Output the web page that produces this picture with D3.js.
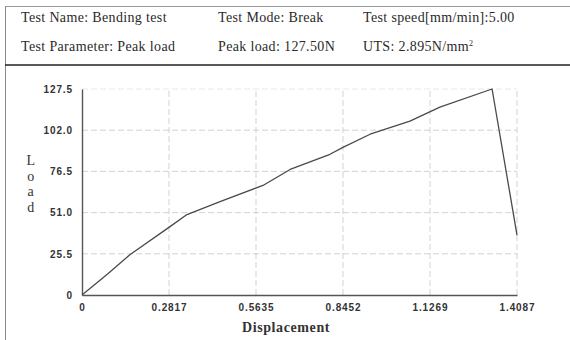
<!DOCTYPE html>
<html>
<head>
<meta charset="utf-8">
<script src="https://cdn.jsdelivr.net/npm/d3@7"></script>
<style>
  html, body { margin: 0; padding: 0; background: #fff; }
  svg { display: block; }
  .hdr { font-family: "Liberation Serif", "Times New Roman", serif; font-size: 14px; letter-spacing: 0.35px; fill: #2a2a2a; }
  .tick text { font-family: "Liberation Sans", Arial, sans-serif; font-size: 10px; font-weight: bold; fill: #333; letter-spacing: 0.9px; }
  .title { font-family: "Liberation Serif", "Times New Roman", serif; font-size: 14px; font-weight: bold; fill: #333; letter-spacing: 0.6px; }
</style>
</head>
<body>
<svg id="chart" width="570" height="340"></svg>
<script>
// Header fields of the test report
const headerRow1 = ["Test Name: Bending test", "Test Mode: Break", "Test speed[mm/min]:5.00"];
const headerRow2 = ["Test Parameter: Peak load", "Peak load: 127.50N", "UTS: 2.895N/mm"];

// Axis ticks
const xTicks = [0, 0.2817, 0.5635, 0.8452, 1.1269, 1.4087];
const xTickLabels = ["0", "0.2817", "0.5635", "0.8452", "1.1269", "1.4087"];
const yTicks = [0, 25.5, 51.0, 76.5, 102.0, 127.5];
const yTickLabels = ["0", "25.5", "51.0", "76.5", "102.0", "127.5"];

// Load-displacement curve
const displacement = [0, 0.08, 0.155, 0.285, 0.34, 0.447, 0.567, 0.586, 0.674, 0.803, 0.845, 0.933, 1.062, 1.159, 1.328, 1.4087];
const load =         [0, 12.6, 24.9, 42.3, 49.8, 57.8, 66.5, 67.8, 77.7, 87.1, 91.4, 99.5, 107.6, 116.3, 127.5, 37.0];

const svg = d3.select("#chart");

// Report frame
const frame = svg.append("g");
frame.append("line").attr("x1", 5).attr("x2", 570).attr("y1", 6.5).attr("y2", 6.5)
  .attr("stroke", "#9a9a9a").attr("stroke-width", 1);
frame.append("line").attr("x1", 5.5).attr("x2", 5.5).attr("y1", 6).attr("y2", 340)
  .attr("stroke", "#8a8a8a").attr("stroke-width", 1);
frame.append("line").attr("x1", 5).attr("x2", 570).attr("y1", 65).attr("y2", 65)
  .attr("stroke", "#222").attr("stroke-width", 1.6);

// Header text
const colX = [21, 218, 363];
headerRow1.forEach((t, i) => {
  svg.append("text").attr("class", "hdr").attr("x", colX[i]).attr("y", 22).text(t);
});
headerRow2.forEach((t, i) => {
  const txt = svg.append("text").attr("class", "hdr").attr("x", colX[i]).attr("y", 51).text(t);
  if (i === 2) {
    txt.append("tspan").attr("dy", -5).attr("font-size", "8px").text("2");
  }
});

// Scales
const x = d3.scaleLinear().domain([0, 1.4087]).range([82, 517]);
const y = d3.scaleLinear().domain([0, 127.5]).range([295, 89]);

// Grid
const grid = svg.append("g").attr("stroke", "#c8c8c8").attr("stroke-width", 0.8)
  .attr("stroke-dasharray", "6,3");
grid.selectAll(".gx").data(xTicks.slice(1)).join("line")
  .attr("x1", d => x(d)).attr("x2", d => x(d))
  .attr("y1", y(0)).attr("y2", y(127.5));
grid.selectAll(".gy").data(yTicks.slice(1)).join("line")
  .attr("x1", x(0)).attr("x2", x(1.4087))
  .attr("y1", d => y(d)).attr("y2", d => y(d))
  .attr("stroke", d => d === 127.5 ? "#e2e2e2" : "#c8c8c8");

// Axes
const xAxis = d3.axisBottom(x).tickValues(xTicks)
  .tickFormat((d, i) => xTickLabels[i]).tickSizeInner(0).tickSizeOuter(0).tickPadding(9);
const yAxis = d3.axisLeft(y).tickValues(yTicks)
  .tickFormat((d, i) => yTickLabels[i]).tickSizeInner(0).tickSizeOuter(0).tickPadding(9);

const gx = svg.append("g").attr("transform", `translate(0,${y(0)})`).call(xAxis);
const gy = svg.append("g").attr("transform", `translate(${x(0)},0)`).call(yAxis);
gx.select(".domain").attr("stroke", "#555").attr("stroke-width", 1.4);
gy.select(".domain").attr("stroke", "#555").attr("stroke-width", 1.4);

// Curve
const line = d3.line().x(d => x(d[0])).y(d => y(d[1]));
svg.append("path")
  .datum(displacement.map((d, i) => [d, load[i]]))
  .attr("d", line)
  .attr("fill", "none")
  .attr("stroke", "#4a4a4a")
  .attr("stroke-width", 1.3)
  .attr("stroke-linejoin", "round");

// Axis titles
svg.append("text").attr("class", "title").attr("x", 286).attr("y", 332)
  .attr("text-anchor", "middle").text("Displacement");
const yTitle = "Load".split("");
yTitle.forEach((c, i) => {
  svg.append("text").attr("class", "title").attr("x", 31).attr("y", 165 + i * 15.5)
    .attr("text-anchor", "middle").style("font-weight", "normal").text(c);
});
</script>
</body>
</html>
